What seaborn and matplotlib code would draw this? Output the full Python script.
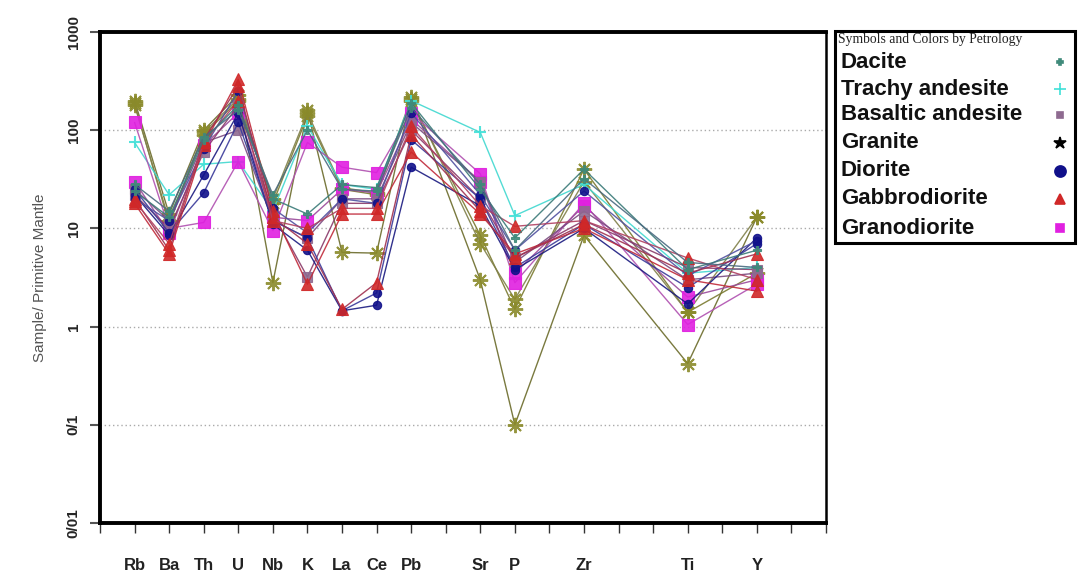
import matplotlib
matplotlib.use("Agg")
import matplotlib.pyplot as plt
from matplotlib.lines import Line2D
from matplotlib.patches import Rectangle
import numpy as np
import pandas as pd
import seaborn as sns

# ---------------- data ----------------
slot_labels = ['', 'Rb', 'Ba', 'Th', 'U', 'Nb', 'K', 'La', 'Ce', 'Pb', '',
               'Sr', 'P', '', 'Zr', '', '', 'Ti', '', 'Y', '', '']
elements = ['Rb', 'Ba', 'Th', 'U', 'Nb', 'K', 'La', 'Ce', 'Pb', 'Sr', 'P', 'Zr', 'Ti', 'Y']

granite_1 = [200, 14, 100, 230, 2.8, 160, 5.7, 5.6, 220, 3.0, 0.1, 8.5, 0.42, 13]
granite_2 = [180, 12, 90, 200, 18, 140, 25, 22, 200, 8.5, 1.5, 40, 1.4, 3.5]
granite_3 = [190, 11, 95, 210, 20, 150, 26, 23, 210, 7.0, 1.9, 30, 1.4, 13]
trachy_1 = [75, 22, 45, 48, 15, 110, 28, 25, 200, 95, 13.5, 28, 3.5, 4.0]
granodiorite_1 = [120, 10, 11.5, 48, 9.5, 75, 42, 37, 150, 36, 2.8, 18, 1.05, 2.7]
granodiorite_2 = [30, 9, 70, 150, 13, 12, 25, 23, 130, 30, 3.5, 17, 2.0, 3.0]
basaltic_1 = [25, 12, 75, 100, 12, 8, 20, 20, 120, 30, 4.5, 15, 3.0, 3.5]
basaltic_2 = [22, 10, 60, 180, 14, 3.2, 18, 18, 100, 20, 5.0, 12, 4.0, 3.8]
diorite_1 = [22, 8.5, 35, 150, 11, 6, 1.45, 1.65, 42, 17, 3.8, 10, 1.7, 8.0]
diorite_2 = [25, 9, 23, 120, 12, 8, 1.45, 2.2, 80, 20, 4.0, 11, 2.5, 7.0]
diorite_3 = [20, 12, 65, 250, 16, 9, 20, 18, 150, 22, 6.0, 24, 3.3, 7.5]
gabbro_1 = [18, 5.5, 70, 330, 15, 2.7, 14, 14, 60, 14, 5.5, 10, 3.0, 2.3]
gabbro_2 = [20, 6, 80, 280, 13, 7, 1.5, 2.8, 90, 15, 5.0, 11, 3.5, 5.5]
gabbro_3 = [19, 7, 75, 200, 12, 10, 16, 16, 110, 17, 10.5, 12, 5.0, 3.0]
dacite_1 = [24, 13, 80, 180, 20, 14, 28, 26, 190, 25, 8.0, 40, 3.8, 6.0]
dacite_2 = [28, 15, 85, 160, 22, 100, 25, 24, 170, 28, 6.0, 32, 4.5, 4.0]

samples = [granite_1, granite_2, granite_3, trachy_1, granodiorite_1, granodiorite_2,
           basaltic_1, basaltic_2, diorite_1, diorite_2, diorite_3,
           gabbro_1, gabbro_2, gabbro_3, dacite_1, dacite_2]
sample_types = ['Granite', 'Granite', 'Granite', 'Trachy andesite', 'Granodiorite',
                'Granodiorite', 'Basaltic andesite', 'Basaltic andesite', 'Diorite',
                'Diorite', 'Diorite', 'Gabbrodiorite', 'Gabbrodiorite', 'Gabbrodiorite',
                'Dacite', 'Dacite']
line_colors = ['#6b6b2a', '#7a7a30', '#80804a', '#40d8d0', '#b050b0', '#9a4a9a',
               '#7a4a80', '#8a3a6a', '#1a1a80', '#3a3a9a', '#5050a0',
               '#c02a3a', '#a03050', '#b04060', '#3a7a78', '#4a6a80']

legend_title = 'Symbols and Colors by Petrology'
legend_types = ['Dacite', 'Trachy andesite', 'Basaltic andesite', 'Granite',
                'Diorite', 'Gabbrodiorite', 'Granodiorite']

# ---------------- styles ----------------
type_marker = {'Dacite': 'P', 'Trachy andesite': '+', 'Basaltic andesite': 's',
               'Granite': (8, 2, 0), 'Diorite': 'o', 'Gabbrodiorite': '^', 'Granodiorite': 's'}
type_color = {'Dacite': '#3f8a7a', 'Trachy andesite': '#40e0d8', 'Basaltic andesite': '#8e6a90',
              'Granite': '#8a8a2a', 'Diorite': '#10108a', 'Gabbrodiorite': '#d02828',
              'Granodiorite': '#e020e0'}
type_size = {'Dacite': 6, 'Trachy andesite': 9, 'Basaltic andesite': 7,
             'Granite': 11, 'Diorite': 6, 'Gabbrodiorite': 8, 'Granodiorite': 8}
type_mew = {'Dacite': 0.8, 'Trachy andesite': 1.5, 'Basaltic andesite': 0.8,
            'Granite': 1.4, 'Diorite': 0.8, 'Gabbrodiorite': 0.8, 'Granodiorite': 0.8}

legend_marker = {'Dacite': 'P', 'Trachy andesite': '+', 'Basaltic andesite': 's',
                 'Granite': '*', 'Diorite': 'o', 'Gabbrodiorite': '^', 'Granodiorite': 's'}
legend_color = dict(type_color)
legend_color['Granite'] = 'black'
legend_size = {'Dacite': 5, 'Trachy andesite': 8, 'Basaltic andesite': 5,
               'Granite': 9, 'Diorite': 8, 'Gabbrodiorite': 7, 'Granodiorite': 6}

sns.set_theme(style='white')
plt.rcParams['font.family'] = ['Liberation Sans', 'DejaVu Sans']

W, H = 1078, 579
fig = plt.figure(figsize=(W / 100, H / 100), dpi=100)
ax = fig.add_axes([100 / W, 56 / H, 726 / W, 491 / H])

x_pos = [slot_labels.index(e) for e in elements]
for vals, rtype, lc in zip(samples, sample_types, line_colors):
    df = pd.DataFrame({'x': x_pos, 'y': vals})
    sns.lineplot(data=df, x='x', y='y', ax=ax, color=lc, lw=1.0, alpha=0.9,
                 marker=type_marker[rtype], markersize=type_size[rtype],
                 markerfacecolor=type_color[rtype], markeredgecolor=type_color[rtype],
                 markeredgewidth=type_mew[rtype], legend=False, sort=False)

ax.set_yscale('log')
ax.set_ylim(0.01, 1000)
ax.set_xlim(0, 21)
ax.set_yticks([0.01, 0.1, 1, 10, 100, 1000])
ax.set_yticklabels(['0/01', '0/1', '1', '10', '100', '1000'], rotation=90,
                   va='center', fontsize=11, fontweight='bold')
ax.yaxis.set_minor_locator(matplotlib.ticker.NullLocator())
ax.set_xticks(range(len(slot_labels)))
ax.set_xticklabels(slot_labels, fontsize=12, fontweight='bold', color='#222222')
ax.tick_params(axis='x', direction='out', length=7, width=1, pad=18, bottom=True, color='#333333')
ax.tick_params(axis='y', direction='out', length=7, width=1.5, pad=7, left=True, color='#555555')
ax.set_xlabel('')
ax.set_ylabel('Sample/ Primitive Mantle', fontsize=11, color='#555555', labelpad=14)

for v in [0.1, 1, 10, 100]:
    ax.axhline(v, color='#aaaaaa', lw=1, ls=(0, (1, 2)), zorder=0)

for side in ['top', 'left', 'bottom']:
    ax.spines[side].set_linewidth(2.8)
    ax.spines[side].set_color('black')
ax.spines['right'].set_linewidth(1.8)
ax.spines['right'].set_color('black')

# ---------------- legend box (figure coords) ----------------
def fx(px):
    return px / W

def fy(py):
    return 1 - py / H

fig.add_artist(Rectangle((fx(835), fy(243)), fx(1075) - fx(835), fy(31) - fy(243),
                         transform=fig.transFigure, fill=False, edgecolor='black', lw=2.2))
fig.text(fx(838), fy(40), legend_title, family='Liberation Serif', fontsize=9.8,
         va='center', ha='left', color='#222222')
row_y = [62, 89, 115, 143, 171, 199, 228]
for t, yy in zip(legend_types, row_y):
    fig.text(fx(841), fy(yy), t, fontsize=16, fontweight='semibold', va='center',
             ha='left', color='#111111')
    fig.add_artist(Line2D([fx(1060)], [fy(yy)], transform=fig.transFigure, ls='none',
                          marker=legend_marker[t], markersize=legend_size[t],
                          color=legend_color[t], markerfacecolor=legend_color[t],
                          markeredgewidth=1.2))

fig.savefig('out.png', dpi=100)
